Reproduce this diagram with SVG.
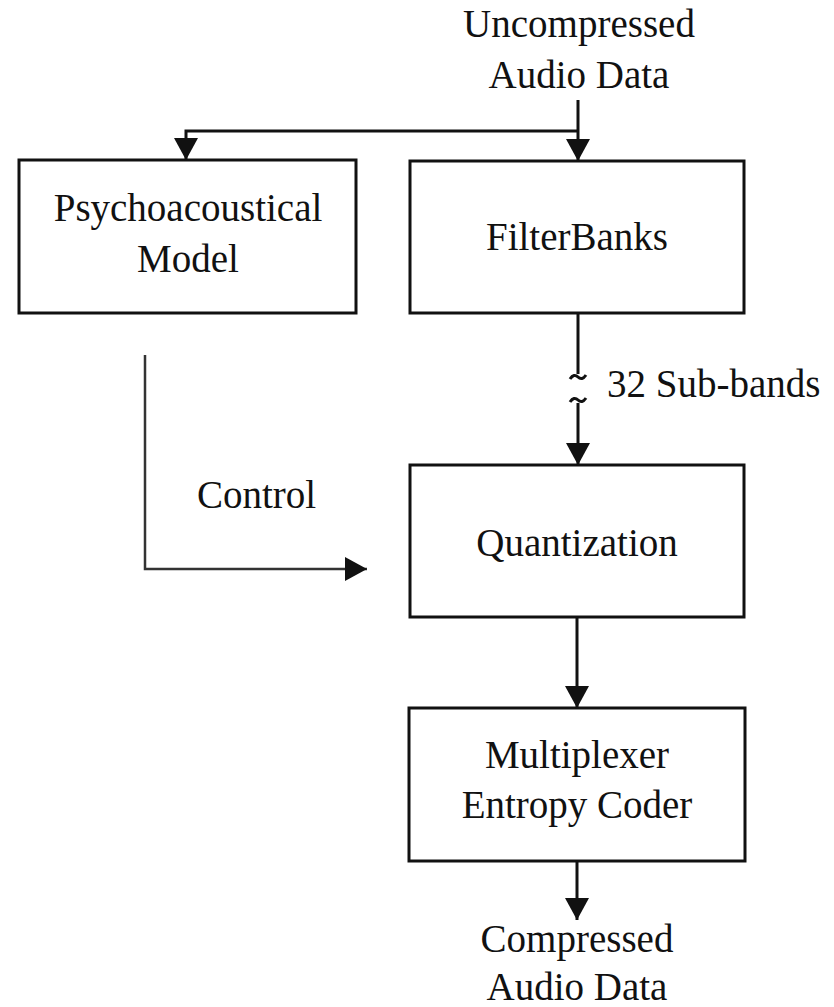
<svg xmlns="http://www.w3.org/2000/svg" width="834" height="1007" viewBox="0 0 834 1007">
  <style>
    .box { fill: #ffffff; stroke: #111111; stroke-width: 3; }
    .lbl { font-family: "Liberation Serif", "Times New Roman", serif; font-size: 39px; fill: #111111; text-anchor: middle; }
    .side { font-family: "Liberation Serif", "Times New Roman", serif; font-size: 39px; fill: #111111; }
    .wire { fill: none; stroke: #111111; stroke-width: 3; }
    .ctl { fill: none; stroke: #333333; stroke-width: 2.5; }
  </style>
  <defs>
    <marker id="ah" viewBox="0 0 22 24" refX="22" refY="12" markerWidth="22" markerHeight="24" markerUnits="userSpaceOnUse" orient="auto">
      <path d="M0,0 L22,12 L0,24 Z" fill="#111111"/>
    </marker>
  </defs>
  <rect width="834" height="1007" fill="#ffffff"/>

  <g id="input-label">
    <text class="lbl" x="579" y="37">Uncompressed</text>
    <text class="lbl" x="579" y="88">Audio Data</text>
  </g>

  <g id="psychoacoustical-model">
    <rect class="box" x="19" y="160" width="337" height="153"/>
    <text class="lbl" x="188" y="221">Psychoacoustical</text>
    <text class="lbl" x="188" y="272">Model</text>
  </g>

  <g id="filterbanks">
    <rect class="box" x="410" y="161" width="334" height="152"/>
    <text class="lbl" x="577" y="250">FilterBanks</text>
  </g>

  <g id="quantization">
    <rect class="box" x="410" y="465" width="334" height="152"/>
    <text class="lbl" x="577" y="556">Quantization</text>
  </g>

  <g id="multiplexer">
    <rect class="box" x="409" y="708" width="336" height="153"/>
    <text class="lbl" x="577" y="768">Multiplexer</text>
    <text class="lbl" x="577" y="818">Entropy Coder</text>
  </g>

  <g id="output-label">
    <text class="lbl" x="577" y="952">Compressed</text>
    <text class="lbl" x="577" y="1000">Audio Data</text>
  </g>

  <g id="connectors">
    <line class="wire" x1="578" y1="100" x2="578" y2="131"/>
    <polyline class="wire" points="578,131 186,131 186,160" marker-end="url(#ah)"/>
    <line class="wire" x1="578" y1="131" x2="578" y2="161" marker-end="url(#ah)"/>
    <line class="wire" x1="578" y1="313" x2="578" y2="374"/>
    <path class="wire" stroke-width="2.5" d="M570,379 Q574,373 578,377 Q582,381 586,375"/>
    <path class="wire" stroke-width="2.5" d="M570,402 Q574,396 578,400 Q582,404 586,398"/>
    <line class="wire" x1="578" y1="403" x2="578" y2="465" marker-end="url(#ah)"/>
    <line class="wire" x1="577" y1="617" x2="577" y2="708" marker-end="url(#ah)"/>
    <line class="wire" x1="577" y1="861" x2="577" y2="920" marker-end="url(#ah)"/>
    <polyline class="ctl" points="145,355 145,569 367,569" marker-end="url(#ah)"/>
    <text class="side" x="197" y="508">Control</text>
    <text class="side" x="607" y="397">32 Sub-bands</text>
  </g>
</svg>
